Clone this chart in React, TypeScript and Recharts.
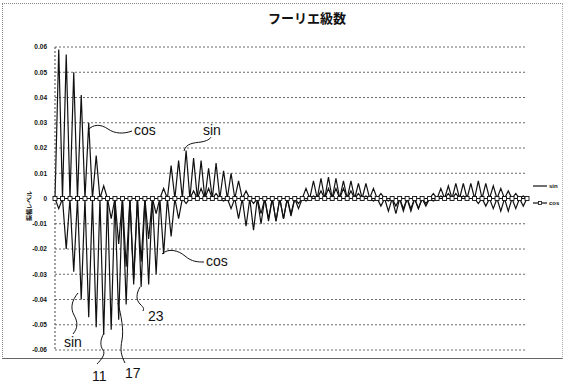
import { LineChart, Line, XAxis, YAxis, CartesianGrid, ReferenceLine } from "recharts";

// harmonic values, odd points only (k = 1, 3, 5 ... 125)
const sinOdd = [
  -0.004, -0.02, -0.029, -0.04, -0.047, -0.051, -0.054, -0.052, -0.048, -0.042,
  -0.034, -0.025, -0.016, -0.006, 0.004, 0.013, 0.015, 0.019, 0.016, 0.015,
  0.012, 0.014, 0.011, 0.01, 0.007, 0.003, -0.002, -0.006, -0.008, -0.009,
  -0.008, -0.006, -0.002, 0.004, 0.007, 0.008, 0.0085, 0.008, 0.007, 0.007,
  0.006, 0.006, 0.004, 0.002, -0.001, -0.003, -0.004, -0.004, -0.004, -0.002,
  0.002, 0.004, 0.005, 0.006, 0.006, 0.006, 0.007, 0.006, 0.005, 0.004,
  0.003, 0.002, 0.001,
];

const cosOdd = [
  0.059, 0.057, 0.05, 0.041, 0.03, 0.017, 0.005, -0.008, -0.018, -0.027,
  -0.032, -0.035, -0.034, -0.03, -0.022, -0.015, -0.008, -0.002, 0.003, 0.004,
  0.004, 0.002, -0.001, -0.004, -0.008, -0.011, -0.0125, -0.01, -0.009, -0.009,
  -0.008, -0.007, -0.004, -0.001, 0.001, 0.003, 0.004, 0.004, 0.004, 0.003,
  0.002, 0.001, -0.001, -0.003, -0.005, -0.006, -0.005, -0.005, -0.004, -0.003,
  -0.001, 0.001, 0.002, 0.002, 0.001, 0.0, -0.002, -0.003, -0.004, -0.005,
  -0.005, -0.004, -0.003,
];

// even points sit on the zero line (the little square markers)
const evenValue = 0;

const yTicks = [0.06, 0.05, 0.04, 0.03, 0.02, 0.01, 0, -0.01, -0.02, -0.03, -0.04, -0.05, -0.06];

const data = Array.from({ length: sinOdd.length * 2 + 1 }, (_, i) =>
  i % 2 === 1
    ? { i, sin: sinOdd[(i - 1) / 2], cos: cosOdd[(i - 1) / 2] }
    : { i, sin: evenValue, cos: evenValue }
);

const ink = "#111";
const latin = "'Liberation Sans', Arial, sans-serif";
const jp = "'Noto Sans CJK JP', sans-serif";

const ZeroMarker = (p: any) => {
  if (p.payload.i % 2 === 1) return <g key={`m${p.index}`} />;
  return (
    <rect
      key={`m${p.index}`}
      x={p.cx - 2}
      y={p.cy - 2}
      width={4}
      height={4}
      fill="#fff"
      stroke={ink}
      strokeWidth={0.9}
    />
  );
};

function Notes() {
  const curve = { fill: "none", stroke: ink, strokeWidth: 1 };
  const txt = { fontFamily: latin, fontSize: 14, fill: ink };
  return (
    <svg
      width={564}
      height={383}
      style={{ position: "absolute", left: 0, top: 0, pointerEvents: "none" }}
    >
      <path d="M88,130 C93,124 101,124 108,129 S124,134 132,131" {...curve} />
      <text x={134} y={135} {...txt}>cos</text>
      <path d="M184,151 C186,143 194,143 201,142 C207,141 210,139 211,137" {...curve} />
      <text x={203} y={135} {...txt}>sin</text>
      <path d="M162,254 C168,248 178,250 185,256 S198,262 204,262" {...curve} />
      <text x={206} y={266} {...txt}>cos</text>
      <path d="M78,293 C72,300 70,308 74,315 S78,328 73,334" {...curve} />
      <text x={64} y={347} {...txt}>sin</text>
      <path d="M104,333 C100,340 100,346 103,350 S101,360 97,364" {...curve} />
      <text x={92} y={381} {...txt}>11</text>
      <path d="M118,303 C121,315 124,330 122,340 S121,355 125,363" {...curve} />
      <text x={125} y={378} {...txt}>17</text>
      <path d="M140,287 C136,294 136,300 140,304 S144,308 143,311" {...curve} />
      <text x={148} y={321} {...txt}>23</text>

      {/* legend */}
      <line x1={533} y1={186} x2={547} y2={186} stroke={ink} strokeWidth={1.2} />
      <text x={549} y={188} fontFamily={latin} fontSize={6} fontWeight={700} fill={ink}>sin</text>
      <line x1={533} y1={203} x2={547} y2={203} stroke={ink} strokeWidth={1.2} />
      <rect x={538.5} y={201.5} width={3} height={3} fill="#fff" stroke={ink} strokeWidth={0.8} />
      <text x={549} y={205} fontFamily={latin} fontSize={6} fontWeight={700} fill={ink}>cos</text>

      {/* y axis title */}
      <text
        x={31}
        y={206}
        transform="rotate(-90 31 206)"
        textAnchor="middle"
        fontFamily={jp}
        fontSize={6}
        fontWeight={700}
        fill={ink}
      >
        振幅レベル
      </text>
    </svg>
  );
}

export default function App() {
  return (
    <div
      style={{
        position: "absolute",
        left: 0,
        top: 0,
        width: 564,
        height: 383,
        background: "#fff",
        overflow: "hidden",
      }}
    >
      <div
        style={{
          position: "absolute",
          left: 2,
          top: 3,
          width: 559,
          height: 354,
          borderTop: "1px dotted #888",
          borderLeft: "1px dotted #888",
          borderRight: "1px dotted #aaa",
          borderBottom: "1px solid #666",
        }}
      />
      <div
        style={{
          position: "absolute",
          left: 0,
          top: 8,
          width: 614,
          textAlign: "center",
          fontFamily: jp,
          fontWeight: 700,
          fontSize: 13,
          color: ink,
        }}
      >
        フーリエ級数
      </div>
      <div style={{ position: "absolute", left: 0, top: 0 }}>
        <LineChart
          width={564}
          height={383}
          data={data}
          margin={{ top: 47, right: 37, bottom: 33, left: 15 }}
        >
          <CartesianGrid
            vertical={false}
            stroke="#444"
            strokeDasharray="2 2"
            strokeWidth={0.8}
          />
          <XAxis dataKey="i" type="number" domain={[0, data.length - 1]} hide />
          <YAxis
            width={40}
            domain={[-0.06, 0.06]}
            ticks={yTicks}
            interval={0}
            tickLine={false}
            tickSize={6}
            tickMargin={2}
            axisLine={{ stroke: "#444", strokeDasharray: "2 2" }}
            tickFormatter={(v: number) => String(Number(v.toFixed(2)))}
            tick={{ fontSize: 6.5, fontWeight: 700, fill: ink, fontFamily: latin }}
          />
          <ReferenceLine y={0} stroke={ink} strokeWidth={1} />
          <Line
            type="linear"
            dataKey="sin"
            stroke={ink}
            strokeWidth={1.2}
            dot={false}
            isAnimationActive={false}
          />
          <Line
            type="linear"
            dataKey="cos"
            stroke={ink}
            strokeWidth={1.2}
            dot={ZeroMarker}
            isAnimationActive={false}
          />
        </LineChart>
      </div>
      <Notes />
    </div>
  );
}
